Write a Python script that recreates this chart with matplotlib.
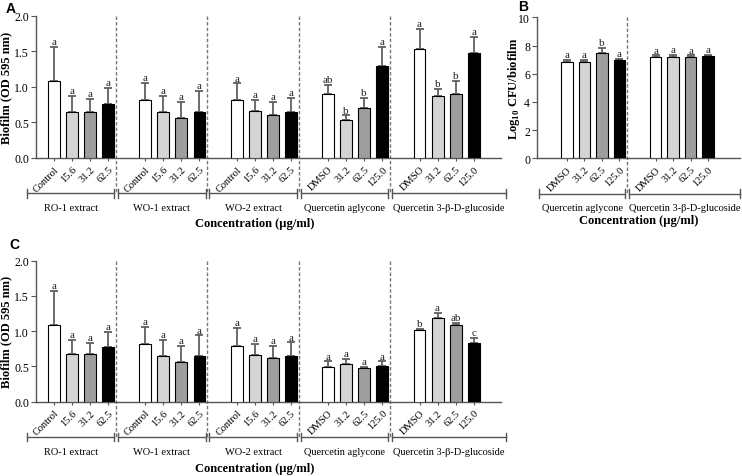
import matplotlib
matplotlib.use("Agg")
import matplotlib.pyplot as plt
import matplotlib.transforms as mtransforms
import numpy as np

plt.rcParams['font.family'] = ['Liberation Serif', 'DejaVu Serif']
plt.rcParams['mathtext.fontset'] = 'custom'
plt.rcParams['mathtext.rm'] = 'Liberation Serif'
plt.rcParams['mathtext.bf'] = 'Liberation Serif:bold'

# ---------------- data ----------------
groups_AC = ["RO-1 extract", "WO-1 extract", "WO-2 extract",
             "Quercetin aglycone", "Quercetin 3-\u03b2-D-glucoside"]
ticks_AC = [["Control", "15.6", "31.2", "62.5"],
            ["Control", "15.6", "31.2", "62.5"],
            ["Control", "15.6", "31.2", "62.5"],
            ["DMSO", "31.2", "62.5", "125.0"],
            ["DMSO", "31.2", "62.5", "125.0"]]

A_vals = [[1.08, 0.65, 0.65, 0.76],
          [0.82, 0.645, 0.565, 0.645],
          [0.81, 0.66, 0.61, 0.645],
          [0.90, 0.54, 0.71, 1.30],
          [1.53, 0.87, 0.90, 1.48]]
A_errtop = [[1.57, 0.88, 0.83, 0.99],
            [1.055, 0.88, 0.79, 0.94],
            [1.05, 0.82, 0.79, 0.85],
            [1.03, 0.60, 0.85, 1.56],
            [1.82, 0.975, 1.09, 1.70]]
A_letters = [["a", "a", "a", "a"], ["a", "a", "a", "a"], ["a", "a", "a", "a"],
             ["ab", "b", "b", "a"], ["a", "b", "b", "a"]]

groups_B = ["Quercetin aglycone", "Quercetin 3-\u03b2-D-glucoside"]
ticks_B = [["DMSO", "31.2", "62.5", "125.0"],
           ["DMSO", "31.2", "62.5", "125.0"]]
B_vals = [[6.85, 6.85, 7.47, 6.98],
          [7.22, 7.22, 7.22, 7.25]]
B_errtop = [[6.97, 6.95, 7.80, 7.05],
            [7.30, 7.32, 7.30, 7.36]]
B_letters = [["a", "a", "b", "a"], ["a", "a", "a", "a"]]

C_vals = [[1.09, 0.68, 0.68, 0.77],
          [0.82, 0.645, 0.565, 0.645],
          [0.79, 0.66, 0.615, 0.645],
          [0.49, 0.535, 0.475, 0.50],
          [1.015, 1.18, 1.09, 0.83]]
C_errtop = [[1.575, 0.88, 0.83, 0.99],
            [1.055, 0.88, 0.79, 0.94],
            [1.05, 0.82, 0.79, 0.84],
            [0.57, 0.605, 0.49, 0.57],
            [1.03, 1.26, 1.12, 0.91]]
C_letters = [["a", "a", "a", "a"], ["a", "a", "a", "a"], ["a", "a", "a", "a"],
             ["a", "a", "a", "a"], ["b", "a", "ab", "c"]]

bar_colors = ["white", "#d4d4d4", "#9e9e9e", "black"]
err_color = "#606060"
line_color = "#555555"

fig = plt.figure(figsize=(7.42, 4.77), dpi=100)

PITCH = 5.07
SEP_OFF = 3.44


def draw_panel(ax, vals, errtop, letters, ticklabels, groups, ymax, yticks,
               yfmt, ylabel, xlim, first_left, last_right, letter_off):
    ng = len(vals)
    xs_all, labels_all = [], []
    for g in range(ng):
        base = g * PITCH
        for i in range(4):
            x = base + i
            v = vals[g][i]
            e = errtop[g][i] - v
            ax.bar(x, v, width=0.66, color=bar_colors[i], edgecolor="black",
                   linewidth=0.8, zorder=3)
            ax.errorbar(x, v, yerr=[[0], [e]], fmt="none", ecolor=err_color,
                        elinewidth=1.3, capsize=3.2, capthick=1.3, zorder=2)
            ax.text(x, errtop[g][i] + letter_off, letters[g][i], ha="center",
                    va="bottom", fontsize=8, color="#222222")
            xs_all.append(x)
            labels_all.append(ticklabels[g][i])
    ax.set_xlim(*xlim)
    ax.set_ylim(0, ymax)
    ax.set_yticks(yticks)
    ax.set_yticklabels([yfmt.format(t) for t in yticks], fontsize=8.5)
    ax.set_xticks(xs_all)
    ax.set_xticklabels(labels_all, rotation=45, ha="right", va="top",
                       rotation_mode="anchor", fontsize=7.5)
    ax.tick_params(axis="x", length=2.5, width=0.8, color=line_color, pad=2)
    ax.tick_params(axis="y", length=3.5, width=0.8, color=line_color, pad=1.5)
    for s in ["top", "right"]:
        ax.spines[s].set_visible(False)
    for s in ["left", "bottom"]:
        ax.spines[s].set_color(line_color)
        ax.spines[s].set_linewidth(1.0)
    ax.set_ylabel(ylabel, fontsize=9, fontweight="bold")

    trans = mtransforms.blended_transform_factory(ax.transData, ax.transAxes)
    seps = [g * PITCH + SEP_OFF for g in range(ng - 1)]
    # dashed separators
    for s in seps:
        ax.plot([s, s], [1.0, -0.25], transform=trans, color="#777777",
                lw=1.0, ls=(0, (2.5, 1.5)), clip_on=False, zorder=1)
    # brackets
    edges = [first_left] + seps + [last_right]
    yb = -0.25
    for g in range(ng):
        l = edges[g] + (0.1 if g > 0 else 0)
        r = edges[g + 1] - (0.1 if g < ng - 1 else 0)
        ax.plot([l, r], [yb, yb], transform=trans, color=line_color, lw=1.0,
                clip_on=False)
        for xx in (l, r):
            ax.plot([xx, xx], [yb - 0.03, yb + 0.03], transform=trans,
                    color=line_color, lw=1.0, clip_on=False)
        ax.text((l + r) / 2, -0.318, groups[g], transform=trans, ha="center",
                va="top", fontsize=7.5)


# Panel A
axA = fig.add_axes([0.0485, 0.6667, 0.6267, 0.2977])
draw_panel(axA, A_vals, A_errtop, A_letters, ticks_AC, groups_AC, 2.0,
           [0.0, 0.5, 1.0, 1.5, 2.0], "{:.1f}", "Biofilm (OD 595 nm)",
           (-1.0, 24.8), -1.5, 25.05, 0.012)
axA.text(0.47, -0.455, "Concentration (\u00b5g/ml)", transform=axA.transAxes,
         ha="center", va="center", fontsize=9, fontweight="bold")
axA.yaxis.set_label_coords(-0.05, 0.5)

# Panel B
axB = fig.add_axes([0.7237, 0.666, 0.2737, 0.2956])
draw_panel(axB, B_vals, B_errtop, B_letters, ticks_B, groups_B, 10,
           [0, 2, 4, 6, 8, 10], "{:d}", "Log$_{\\mathbf{10}}$ CFU/biofilm",
           (-1.71, 9.9), -1.6, 9.9, 0.06)
axB.text(0.5, -0.44, "Concentration (\u00b5g/ml)", transform=axB.transAxes,
         ha="center", va="center", fontsize=9, fontweight="bold")
axB.yaxis.set_label_coords(-0.075, 0.5)

# Panel C
axC = fig.add_axes([0.0485, 0.1558, 0.6267, 0.2956])
draw_panel(axC, C_vals, C_errtop, C_letters, ticks_AC, groups_AC, 2.0,
           [0.0, 0.5, 1.0, 1.5, 2.0], "{:.1f}", "Biofilm (OD 595 nm)",
           (-1.0, 24.8), -1.5, 25.05, 0.012)
axC.text(0.47, -0.47, "Concentration (\u00b5g/ml)", transform=axC.transAxes,
         ha="center", va="center", fontsize=9, fontweight="bold")
axC.yaxis.set_label_coords(-0.05, 0.5)

# panel letters
for txt, x, y in [("A", 0.008, 0.982), ("B", 0.698, 0.986), ("C", 0.012, 0.487)]:
    fig.text(x, y, txt, fontsize=10, fontweight="bold",
             family=["Liberation Sans", "DejaVu Sans"], va="center")

fig.savefig("out.png", dpi=100)
